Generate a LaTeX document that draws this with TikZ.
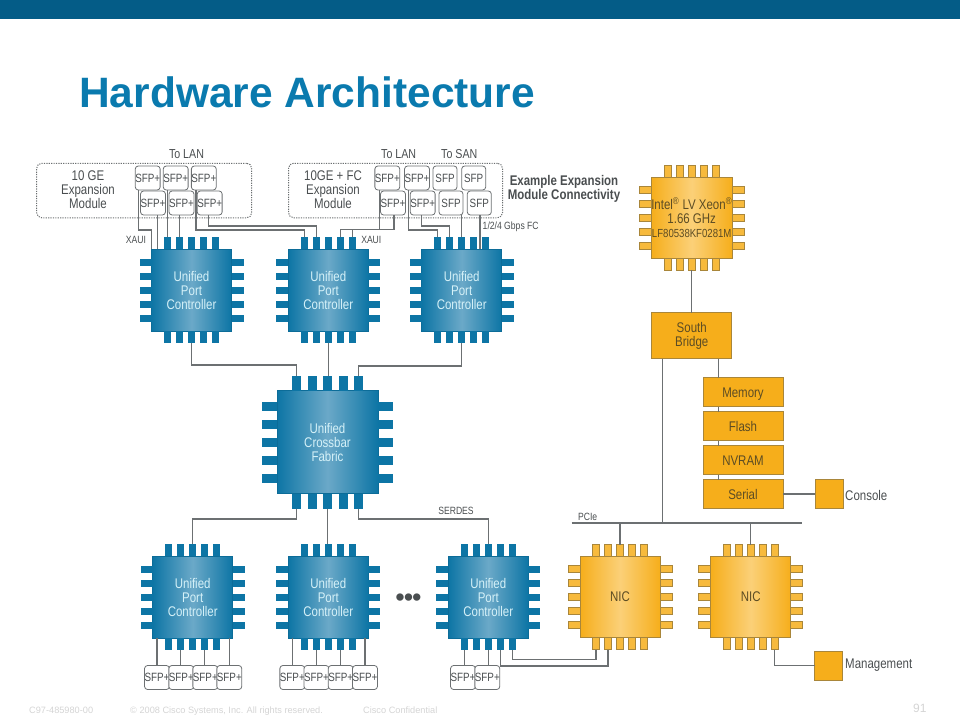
\documentclass[tikz,border=0pt]{standalone}
\usepackage{fontspec}
\setmainfont{Liberation Sans}
\newfontfamily\narrowsf[FakeStretch=0.82]{Liberation Sans}
\usepackage{xcolor}
\usepackage{tikz}
\usetikzlibrary{positioning, calc}
\definecolor{ciscobar}{HTML}{045C87}
\definecolor{ciscotitle}{HTML}{0A7AAE}
\definecolor{chipblue}{HTML}{0D75A5}
\definecolor{chiplight}{HTML}{6BA9C8}
\definecolor{chipedge}{HTML}{0C6C98}
\definecolor{chiptext}{HTML}{D5F1F8}
\definecolor{gold}{HTML}{F6AE1B}
\definecolor{goldlight}{HTML}{FBD078}
\definecolor{goldedge}{HTML}{A9863A}
\definecolor{goldtext}{HTML}{5C4C24}
\definecolor{wirec}{HTML}{6C7072}
\definecolor{labelc}{HTML}{4A4E50}
\definecolor{footc}{HTML}{D4D4D4}
\tikzset{
  chipa/.style={left color=chipblue, right color=chipblue, middle color=chiplight,
                draw=chipedge, line width=0.6pt, minimum width=80pt, minimum height=82pt,
                align=center, text=chiptext, inner sep=0pt, outer sep=0pt,
                font=\narrowsf\fontsize{14}{14}\selectfont},
  chipb/.style={left color=gold, right color=gold, middle color=goldlight,
                draw=goldedge, line width=0.6pt, minimum width=80pt, minimum height=81pt,
                align=center, text=goldtext, inner sep=0pt, outer sep=0pt,
                font=\narrowsf\fontsize{14}{14}\selectfont},
  pina/.style={fill=chipblue, inner sep=0pt, outer sep=0pt},
  pinb/.style={fill=gold!85!white, draw=goldedge, line width=0.5pt, inner sep=0pt, outer sep=0pt},
  goldbox/.style={fill=gold, draw=goldedge, line width=0.8pt, minimum width=80pt,
                  minimum height=29pt, align=center, text=goldtext, inner sep=0pt,
                  outer sep=0pt, font=\narrowsf\fontsize{14}{14}\selectfont},
  goldone/.style={goldbox, text height=10pt, text depth=0pt},
  sfpbox/.style={draw=wirec, fill=white, rounded corners=3pt, line width=0.8pt,
                 minimum width=24pt, minimum height=24pt, inner sep=0pt, outer sep=0pt,
                 text=labelc, font=\narrowsf\fontsize{12}{12}\selectfont},
  modbox/.style={draw=wirec, dash pattern=on 1.2pt off 1.2pt, rounded corners=5pt,
                 line width=1pt, minimum height=54.5pt, inner sep=0pt, outer sep=0pt},
  wire/.style={draw=wirec, line width=1.5pt},
  lbl/.style={text=labelc, align=center, inner sep=0pt,
              font=\narrowsf\fontsize{14}{14}\selectfont},
  tiny/.style={text=labelc, align=center, inner sep=0pt,
               font=\narrowsf\fontsize{10.5}{11}\selectfont},
  foot/.style={text=footc, inner sep=0pt, anchor=base west, font=\fontsize{9.2}{10}\selectfont},
}
% pins round a chip: name, pin style, top step, side step, pin width, pin length
\newcommand{\chippins}[6]{
  \foreach \pn/\po in {1/-2,2/-1,3/0,4/1,5/2} {
    \node[#2, minimum width=#5pt, minimum height=#6pt, anchor=south] (#1-t\pn)
      at ($(#1.north)+(\po*#3,0)$) {};
    \node[#2, minimum width=#5pt, minimum height=#6pt, anchor=north] (#1-b\pn)
      at ($(#1.south)+(\po*#3,0)$) {};
    \node[#2, minimum width=#6pt, minimum height=#5pt, anchor=east] (#1-l\pn)
      at ($(#1.west)+(0,\po*#4)$) {};
    \node[#2, minimum width=#6pt, minimum height=#5pt, anchor=west] (#1-r\pn)
      at ($(#1.east)+(0,\po*#4)$) {};
  }
}
\begin{document}
\begin{tikzpicture}[x=1pt, y=-1pt]
  \useasboundingbox (0,0) rectangle (960,720);
  \fill[ciscobar] (0,0) rectangle (960,19);
  \node[anchor=west, text=ciscotitle, inner sep=0pt, font=\bfseries\fontsize{42.5}{46}\selectfont]
    (title) at (79,92) {Hardware Architecture};

  % expansion modules
  \node[modbox, minimum width=215pt] (modA) at (144.2,190.5) {};
  \node[modbox, minimum width=214pt] (modB) at (395.5,190.5) {};
  \node[lbl] (modAtxt) at (88,190) {10 GE\\Expansion\\Module};
  \node[lbl] (modBtxt) at (333,190) {10GE + FC\\Expansion\\Module};
  \foreach \sn/\sx/\sy/\st in {a1/147.7/178/SFP+, a2/175.7/178/SFP+, a3/203.8/178/SFP+,
                           a4/153/203/SFP+, a5/181.5/203/SFP+, a6/209.7/203/SFP+,
                           b1/387.3/178/SFP+, b2/417/178/SFP+, b3/445/178/SFP, b4/473.7/178/SFP,
                           b5/393/203/SFP+, b6/422.7/203/SFP+, b7/451/203/SFP, b8/479.3/203/SFP,
                           d1/157/677.5/SFP+, d2/181.3/677.5/SFP+, d3/205.3/677.5/SFP+, d4/229.3/677.5/SFP+,
                           e1/292.3/677.5/SFP+, e2/316.5/677.5/SFP+, e3/340.7/677.5/SFP+, e4/365/677.5/SFP+,
                           f1/463/677.5/SFP+, f2/487.3/677.5/SFP+}
    \node[sfpbox] (sfp\sn) at (\sx,\sy) {\st};

  % chips
  \node[chipa] (upcA) at (191.5,290) {Unified\\Port\\Controller};
  \node[chipa] (upcB) at (328.3,290) {Unified\\Port\\Controller};
  \node[chipa] (upcC) at (461.7,290) {Unified\\Port\\Controller};
  \node[chipa, minimum width=101pt, minimum height=103pt] (fabric) at (327.5,442) {Unified\\Crossbar\\Fabric};
  \node[chipa] (upcD) at (192.7,597) {Unified\\Port\\Controller};
  \node[chipa] (upcE) at (328.3,597) {Unified\\Port\\Controller};
  \node[chipa] (upcF) at (488.3,597) {Unified\\Port\\Controller};
  \node[chipb] (nicA) at (620,597) {NIC};
  \node[chipb] (nicB) at (750.7,597) {NIC};
  \node[chipb] (xeon) at (691.7,217.8) {Intel\textsuperscript{\textregistered} LV Xeon\textsuperscript{\textregistered}\\1.66 GHz\\{\fontsize{11.7}{14}\selectfont LF80538KF0281M}};
  \foreach \ch in {upcA, upcB, upcC, upcD, upcE, upcF} {
    \chippins{\ch}{pina}{12}{14}{7}{12}
  }
  \chippins{fabric}{pina}{15.5}{18}{9}{15}
  \foreach \ch in {nicA, nicB, xeon} {
    \chippins{\ch}{pinb}{12}{14}{7}{12}
  }

  % south bridge column
  \node[goldbox, minimum height=46pt] (bridge) at (691.7,335.5) {South\\Bridge};
  \node[goldone] (memory) at (743,392) {Memory};
  \node[goldone, below=5pt of memory] (flash) {Flash};
  \node[goldone, below=5pt of flash] (nvram) {NVRAM};
  \node[goldone, below=5pt of nvram] (serial) {Serial};
  \node[goldbox, minimum width=28pt, right=32pt of serial] (console) {};
  \node[goldbox, minimum width=28pt] (mgmt) at (828.7,665.5) {};
  \coordinate (pcieL) at (571.7,523);
  \coordinate (pcieR) at (801.7,523);

  % wires, module one
  \draw[wire] ([xshift=-9.2pt]sfpa1.south) -- ++(0,40) -| (upcA.north west);
  \draw[wire] ([xshift=4.3pt]sfpa4.south) -- ([xshift=4.3pt]sfpa4.south |- upcA.north);
  \draw[wire] (upcA-t1.north |- sfpa2.south) -- (upcA-t1.north);
  \draw[wire] (upcA-t2.north |- sfpa5.south) -- (upcA-t2.north);
  \draw[wire] ([xshift=-8pt]sfpa3.south) -- ++(0,40) -| (upcB-t1.north);
  \draw[wire] ([xshift=-1pt]sfpa6.south) -- ++(0,11) -| (upcB-t2.north);
  % wires, module two
  \draw[wire] ([xshift=-8pt]sfpb1.south) -- ++(0,39.5) -| (upcB-t4.north);
  \draw[wire] ([xshift=1pt]sfpb5.south) -- ++(0,14.5) -| (upcB-t5.north);
  \draw[wire] ([xshift=-8.7pt]sfpb2.south) -- ++(0,40) -| (upcC-t1.north);
  \draw[wire] ([xshift=-1pt]sfpb6.south) -- ++(0,11) -| (upcC-t2.north);
  \draw[wire] (upcC-t3.north |- sfpb7.south) -- (upcC-t3.north);
  \draw[wire] ([xshift=0.7pt]sfpb8.south) -- ([xshift=0.7pt]sfpb8.south |- upcC.north);
  % wires, crossbar
  \draw[wire] (upcA-b3.south) -- ++(0,22) -| (fabric-t1.north);
  \draw[wire] (upcB-b3.south) -- (upcB-b3.south |- fabric-t3.north);
  \draw[wire] (upcC-b3.south) -- ++(0,23) -| (fabric-t5.north);
  \draw[wire] (fabric-b1.south) -- ++(0,10.5) -| (upcD-t3.north);
  \draw[wire] (fabric-b3.south) -- (fabric-b3.south |- upcE-t3.north);
  \draw[wire] (fabric-b5.south) -- ++(0,10.5) -| (upcF-t3.north);
  % wires, lower ports
  \draw[wire] (sfpd1.north) -- (sfpd1.north |- upcD.south);
  \draw[wire] (upcD-b2.south) -- (upcD-b2.south |- sfpd2.north);
  \draw[wire] (upcD-b4.south) -- (upcD-b4.south |- sfpd3.north);
  \draw[wire] (sfpd4.north) -- (sfpd4.north |- upcD.south);
  \draw[wire] (sfpe1.north) -- (sfpe1.north |- upcE.south);
  \draw[wire] (upcE-b2.south) -- (upcE-b2.south |- sfpe2.north);
  \draw[wire] (upcE-b4.south) -- (upcE-b4.south |- sfpe3.north);
  \draw[wire] (sfpe4.north) -- (sfpe4.north |- upcE.south);
  \draw[wire] (upcF-b1.south) -- (upcF-b1.south |- sfpf1.north);
  \draw[wire] (upcF-b3.south) -- (upcF-b3.south |- sfpf2.north);
  \draw[wire] (upcF-b4.south) -- ++(0,16) -| (nicA-b2.south);
  \draw[wire] (upcF-b5.south) -- ++(0,9.5) -| (nicA-b1.south);
  % wires, gold side
  \draw[wire] (xeon-b3.south) -- (xeon-b3.south |- bridge.north);
  \draw[wire] ([xshift=-29pt]bridge.south) -- ([xshift=-29pt]bridge.south |- pcieL);
  \draw[wire] ([xshift=27pt]bridge.south) -- ([xshift=27pt]bridge.south |- memory.north);
  \draw[wire] ([xshift=-24.3pt]memory.south) -- ([xshift=-24.3pt]flash.north);
  \draw[wire] ([xshift=-24.3pt]flash.south) -- ([xshift=-24.3pt]nvram.north);
  \draw[wire] ([xshift=-24.3pt]nvram.south) -- ([xshift=-24.3pt]serial.north);
  \draw[wire] (serial.east) -- (console.west);
  \draw[wire] (pcieL) -- (pcieR);
  \draw[wire] (nicA-t3.north |- pcieL) -- (nicA-t3.north);
  \draw[wire] (nicB-t3.north |- pcieL) -- (nicB-t3.north);
  \draw[wire] (nicB-b5.south) |- (mgmt.west);

  % labels
  \node[lbl, font=\narrowsf\fontsize{13}{13}\selectfont] (toLanA) at (186.5,154) {To LAN};
  \node[lbl, font=\narrowsf\fontsize{13}{13}\selectfont] (toLanB) at (398.7,154) {To LAN};
  \node[lbl, font=\narrowsf\fontsize{13}{13}\selectfont] (toSan) at (459.3,154) {To SAN};
  \node[tiny] (xauiA) at (136,240) {XAUI};
  \node[tiny] (xauiB) at (371.3,240) {XAUI};
  \node[tiny] (fcRate) at (510.7,227) {1/2/4 Gbps FC};
  \node[lbl, font=\narrowsf\bfseries\fontsize{14}{14}\selectfont] (example) at (564,189)
    {Example Expansion\\Module Connectivity};
  \node[tiny] (serdes) at (456,511) {SERDES};
  \node[tiny] (pcie) at (587.7,516.5) {PCIe};
  \node[lbl, anchor=west] (consoleTxt) at (845,495.5) {Console};
  \node[lbl, anchor=west] (mgmtTxt) at (845,665.5) {Management};
  \node[text=labelc, inner sep=0pt, font=\fontsize{27}{27}\selectfont] (dots) at (408.5,600) {\textbullet\kern-1pt\textbullet\kern-1pt\textbullet};
  \node[foot] (docnum) at (29,713) {C97-485980-00};
  \node[foot] (copyr) at (130,713) {\textcopyright{} 2008 Cisco Systems, Inc. All rights reserved.};
  \node[foot] (confid) at (363,713) {Cisco Confidential};
  \node[foot, font=\fontsize{12}{12}\selectfont] (pageno) at (913,712) {91};
\end{tikzpicture}
\end{document}
